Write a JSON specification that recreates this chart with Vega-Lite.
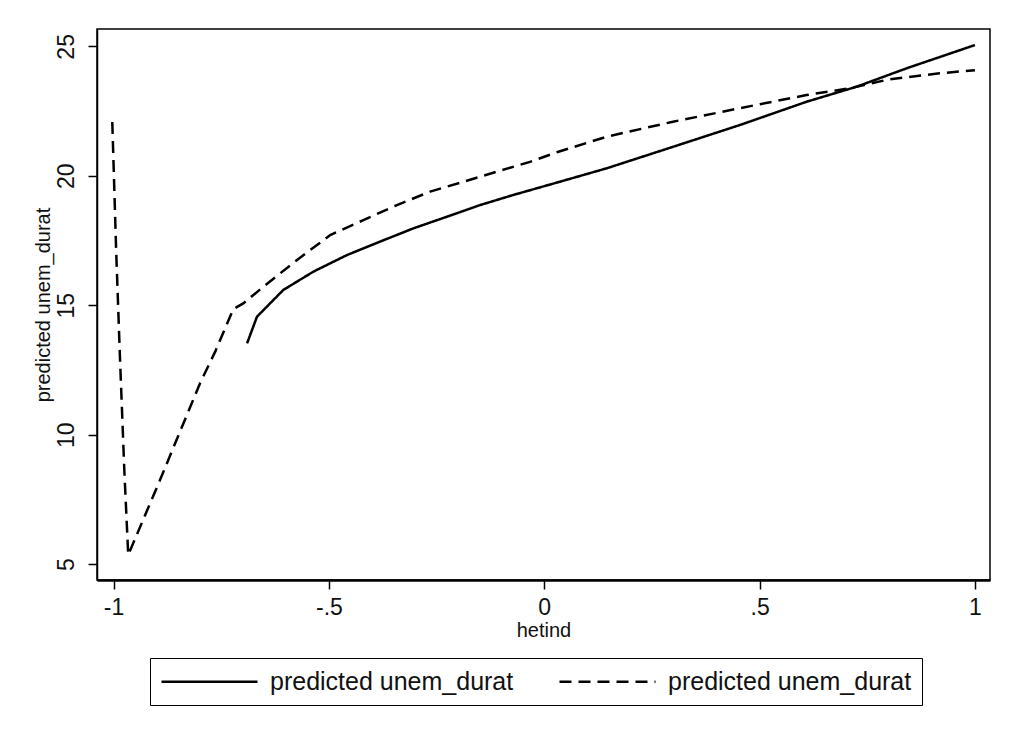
{
  "$schema": "https://vega.github.io/schema/vega-lite/v6.json",
  "width": 893,
  "height": 551,
  "autosize": {"type": "none"},
  "padding": {"left": 97, "top": 29, "right": 26, "bottom": 162},
  "background": "white",
  "config": {
    "font": "Liberation Sans",
    "view": {"stroke": "#000", "strokeWidth": 1.5}
  },
  "data": {
    "values": [
      {"hetind": -0.690, "pred": 13.53, "s": "A"},
      {"hetind": -0.667, "pred": 14.56, "s": "A"},
      {"hetind": -0.606, "pred": 15.59, "s": "A"},
      {"hetind": -0.536, "pred": 16.30, "s": "A"},
      {"hetind": -0.458, "pred": 16.94, "s": "A"},
      {"hetind": -0.381, "pred": 17.46, "s": "A"},
      {"hetind": -0.304, "pred": 17.97, "s": "A"},
      {"hetind": -0.226, "pred": 18.42, "s": "A"},
      {"hetind": -0.149, "pred": 18.87, "s": "A"},
      {"hetind": -0.072, "pred": 19.26, "s": "A"},
      {"hetind": 0.036, "pred": 19.77, "s": "A"},
      {"hetind": 0.145, "pred": 20.29, "s": "A"},
      {"hetind": 0.299, "pred": 21.12, "s": "A"},
      {"hetind": 0.454, "pred": 21.96, "s": "A"},
      {"hetind": 0.609, "pred": 22.86, "s": "A"},
      {"hetind": 0.725, "pred": 23.44, "s": "A"},
      {"hetind": 0.841, "pred": 24.15, "s": "A"},
      {"hetind": 1.0, "pred": 25.05, "s": "A"},
      {"hetind": -1.003, "pred": 22.08, "s": "B"},
      {"hetind": -0.994, "pred": 17.1, "s": "B"},
      {"hetind": -0.985, "pred": 12.9, "s": "B"},
      {"hetind": -0.975, "pred": 8.6, "s": "B"},
      {"hetind": -0.966, "pred": 5.36, "s": "B"},
      {"hetind": -0.892, "pred": 8.26, "s": "B"},
      {"hetind": -0.799, "pred": 12.0, "s": "B"},
      {"hetind": -0.764, "pred": 13.21, "s": "B"},
      {"hetind": -0.722, "pred": 14.85, "s": "B"},
      {"hetind": -0.698, "pred": 15.08, "s": "B"},
      {"hetind": -0.652, "pred": 15.72, "s": "B"},
      {"hetind": -0.574, "pred": 16.75, "s": "B"},
      {"hetind": -0.497, "pred": 17.71, "s": "B"},
      {"hetind": -0.420, "pred": 18.29, "s": "B"},
      {"hetind": -0.342, "pred": 18.87, "s": "B"},
      {"hetind": -0.265, "pred": 19.39, "s": "B"},
      {"hetind": -0.188, "pred": 19.77, "s": "B"},
      {"hetind": -0.110, "pred": 20.16, "s": "B"},
      {"hetind": -0.033, "pred": 20.54, "s": "B"},
      {"hetind": 0.033, "pred": 20.93, "s": "B"},
      {"hetind": 0.145, "pred": 21.51, "s": "B"},
      {"hetind": 0.299, "pred": 22.09, "s": "B"},
      {"hetind": 0.454, "pred": 22.61, "s": "B"},
      {"hetind": 0.609, "pred": 23.12, "s": "B"},
      {"hetind": 0.709, "pred": 23.38, "s": "B"},
      {"hetind": 0.802, "pred": 23.73, "s": "B"},
      {"hetind": 0.918, "pred": 23.96, "s": "B"},
      {"hetind": 1.0, "pred": 24.08, "s": "B"}
    ]
  },
  "mark": {"type": "line", "strokeWidth": 2.5, "color": "#000"},
  "encoding": {
    "x": {
      "field": "hetind",
      "type": "quantitative",
      "scale": {"domain": [-1.0385, 1.035], "nice": false, "zero": false},
      "axis": {
        "values": [-1, -0.5, 0, 0.5, 1],
        "labelExpr": "datum.value == -0.5 ? '-.5' : datum.value == 0.5 ? '.5' : '' + datum.value",
        "title": "hetind",
        "grid": false,
        "domainColor": "#000",
        "domainWidth": 2.5,
        "tickColor": "#000",
        "tickWidth": 1.5,
        "tickSize": 9,
        "labelFontSize": 23,
        "labelColor": "#111",
        "labelPadding": 7,
        "titleFontSize": 20,
        "titleFontWeight": "normal",
        "titleColor": "#111",
        "titlePadding": 1
      }
    },
    "y": {
      "field": "pred",
      "type": "quantitative",
      "scale": {"domain": [4.39, 25.67], "nice": false, "zero": false},
      "axis": {
        "values": [5, 10, 15, 20, 25],
        "labelExpr": "'' + datum.value",
        "title": "predicted unem_durat",
        "grid": false,
        "domainColor": "#000",
        "domainWidth": 1.5,
        "tickColor": "#000",
        "tickWidth": 1.5,
        "tickSize": 9,
        "labelAngle": 270,
        "labelAlign": "center",
        "labelBaseline": "bottom",
        "labelFontSize": 23,
        "labelColor": "#111",
        "labelPadding": 10,
        "titleFontSize": 20,
        "titleFontWeight": "normal",
        "titleColor": "#111",
        "titlePadding": 2
      }
    },
    "strokeDash": {
      "field": "s",
      "type": "nominal",
      "scale": {"domain": ["A", "B"], "range": [[1, 0], [12, 7]]},
      "legend": {
        "title": null,
        "orient": "none",
        "legendX": 53,
        "legendY": 629,
        "direction": "horizontal",
        "labelExpr": "'predicted unem_durat'",
        "strokeColor": "#000",
        "padding": 10,
        "symbolType": "M-4,0H4",
        "symbolSize": 576,
        "symbolOffset": 36,
        "symbolStrokeWidth": 2.5,
        "symbolStrokeColor": "#000",
        "labelFontSize": 25,
        "labelColor": "#111",
        "labelOffset": 47,
        "columnPadding": 40,
        "labelLimit": 400
      }
    }
  }
}
